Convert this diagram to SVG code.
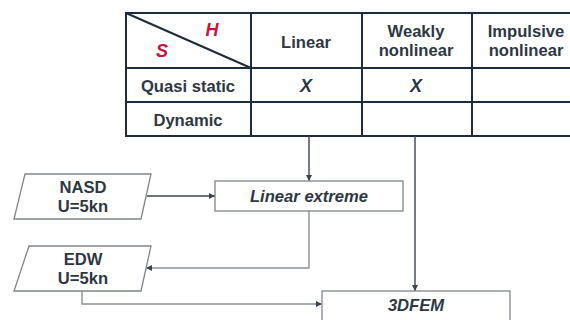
<svg xmlns="http://www.w3.org/2000/svg" width="570" height="320" viewBox="0 0 570 320">
<defs>
<marker id="ah" viewBox="0 0 10 10" refX="10" refY="5" markerWidth="6" markerHeight="6" orient="auto" markerUnits="userSpaceOnUse">
<path d="M0,0 L10,5 L0,10 z" fill="#3a4452"/>
</marker>
</defs>
<style>
.grid{stroke:#1e2d3d;stroke-width:2;fill:none}
.t{font-family:"Liberation Sans",Arial,sans-serif;font-weight:bold;font-size:16.6px;fill:#2e3744;text-anchor:middle}
.it{font-style:italic}
.red{fill:#c8143c;font-size:18px}
.box{fill:#ffffff;stroke:#80858c;stroke-width:1.3}
.c{fill:none;stroke:#3a4452;stroke-width:1.4}
.cl{fill:none;stroke:#8c9198;stroke-width:1.4}
</style>
<rect width="570" height="320" fill="#ffffff"/>
<g id="table">
<rect x="126" y="13" width="460" height="123" class="grid"/>
<line x1="126" y1="68" x2="586" y2="68" class="grid"/>
<line x1="126" y1="102" x2="586" y2="102" class="grid"/>
<line x1="251" y1="13" x2="251" y2="136" class="grid"/>
<line x1="362" y1="13" x2="362" y2="136" class="grid"/>
<line x1="472" y1="13" x2="472" y2="136" class="grid"/>
<line x1="126" y1="13" x2="251" y2="68" class="grid"/>
<text x="212" y="36" class="t it red">H</text>
<text x="162" y="57" class="t it red">S</text>
<text x="306" y="48" class="t">Linear</text>
<text x="416" y="37" class="t">Weakly</text>
<text x="416" y="56" class="t">nonlinear</text>
<text x="526" y="37" class="t">Impulsive</text>
<text x="526" y="56" class="t">nonlinear</text>
<text x="188" y="92" class="t">Quasi static</text>
<text x="188" y="126" class="t">Dynamic</text>
<text x="306" y="92" class="t it" style="font-size:18px">X</text>
<text x="416" y="92" class="t it" style="font-size:18px">X</text>
</g>
<g id="connectors">
<path d="M309,136 V181" class="c" marker-end="url(#ah)"/>
<path d="M415,136 V291" class="c" marker-end="url(#ah)"/>
<path d="M147,196 H215" class="c" marker-end="url(#ah)"/>
<path d="M309,211 V268 H146" class="cl" marker-end="url(#ah)"/>
<path d="M82,291 V304 H322" class="cl" marker-end="url(#ah)"/>
</g>
<g id="nasd">
<polygon points="25,174 151,174 141,219 14,219" class="box"/>
<text x="83" y="193" class="t">NASD</text>
<text x="83" y="212" class="t">U=5kn</text>
</g>
<g id="linear-extreme">
<rect x="215" y="181" width="188" height="30" class="box"/>
<text x="309" y="202" class="t it">Linear extreme</text>
</g>
<g id="edw">
<polygon points="29,246 151,246 141,291 14,291" class="box"/>
<text x="83" y="265" class="t">EDW</text>
<text x="83" y="284" class="t">U=5kn</text>
</g>
<g id="fem">
<rect x="322" y="291" width="188" height="36" class="box"/>
<text x="416" y="311" class="t it">3DFEM</text>
</g>
</svg>
